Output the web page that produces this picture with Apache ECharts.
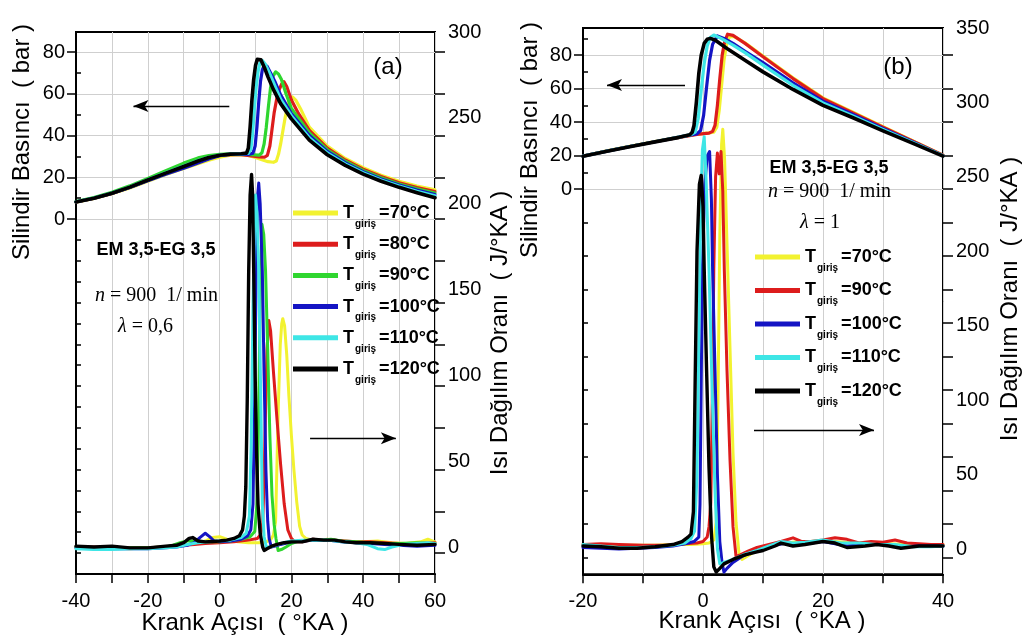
<!DOCTYPE html>
<html><head><meta charset="utf-8">
<script src="https://cdn.jsdelivr.net/npm/echarts@6/dist/echarts.min.js"></script>
<style>html,body{margin:0;padding:0;background:#fff}#c{width:1024px;height:644px}</style>
</head><body><div id="c"></div>
<script>
// ---------- tick labels ----------
const pressureLabels = [0, 20, 40, 60, 80];
const heatLabelsA = [0, 50, 100, 150, 200, 250, 300];
const heatLabelsB = [0, 50, 100, 150, 200, 250, 300, 350];
const tempsA = [70, 80, 90, 100, 110, 120];
const tempsB = [70, 90, 100, 110, 120];
const colorsA = ['#f2f230', '#dd1c1c', '#2fd62f', '#1414c4', '#3ee6e6', '#000000'];
const colorsB = ['#f2f230', '#dd1c1c', '#1414c4', '#3ee6e6', '#000000'];

// ---------- panel (a): cylinder pressure [crank angle, bar] ----------
const aP70 = [[-40,8.1],[-35,9.9],[-30,12.1],[-25,14.9],[-20,18.1],[-15,21.3],[-10,24.2],[-6,26.5],[-3,28.2],[0,29.6],[3,30.6],[6,30.9],[8,30.5],[10,29.5],[12,28.3],[13.5,27.5],[15,27.2],[15.8,27.8],[16.4,31],[17,36],[17.7,43],[18.3,49],[18.9,53.5],[19.6,57.5],[20.3,58.5],[21.2,57],[22.5,53],[25,44],[30,35],[35,29],[40,24.6],[45,21],[50,18.1],[55,15.8],[60,14]];
const aP80 = [[-40,8.2],[-35,10],[-30,12.3],[-25,15.2],[-20,18.6],[-15,22],[-10,25.2],[-6,27.8],[-3,29.4],[0,30.5],[3,31],[6,30.9],[9,30.2],[11,29.8],[12.5,29.6],[13.3,30.5],[14,35],[14.6,43],[15.2,51],[15.9,57.5],[16.6,62],[17.3,64.8],[17.9,65.8],[18.7,63.5],[20,57],[22,50.5],[25,42.5],[30,34],[35,28.3],[40,23.9],[45,20.4],[50,17.4],[55,15.1],[60,13.2]];
const aP90 = [[-40,8.4],[-35,10.3],[-30,12.8],[-25,15.9],[-20,19.5],[-15,23.2],[-10,26.8],[-6,29.3],[-3,30.4],[0,31],[3,31.2],[6,31.1],[9,30.8],[11,30.6],[11.8,31.8],[12.4,36],[13,44],[13.6,54],[14.2,63],[14.9,68.5],[15.6,70.5],[16.4,69.5],[17.2,67],[18.5,60],[20,53],[25,41.3],[30,33.2],[35,27.7],[40,23.3],[45,19.8],[50,16.8],[55,14.5],[60,12.5]];
const aP100 = [[-40,8.2],[-35,10],[-30,12.3],[-25,15.1],[-20,18.3],[-15,21.5],[-10,24.3],[-6,26.8],[-3,28.8],[0,30.4],[3,31],[6,31.1],[8,31],[9.3,31.6],[9.9,35],[10.4,44],[10.9,56],[11.4,66],[11.9,71.5],[12.5,74],[13.3,73],[14.5,69],[15.5,65.5],[17,59.5],[20,50.5],[25,40],[30,32.4],[35,27],[40,22.7],[45,19.2],[50,16.3],[55,13.9],[60,11.8]];
const aP110 = [[-40,8.3],[-35,10.1],[-30,12.5],[-25,15.4],[-20,18.8],[-15,22.2],[-10,25.4],[-6,28],[-3,29.6],[0,30.7],[3,31.1],[6,31.2],[8,31.4],[8.7,33.5],[9.2,41],[9.7,53],[10.2,63.5],[10.7,70.5],[11.2,74.5],[11.9,76],[12.8,74],[14,69.5],[15,65.5],[17,57.5],[20,49.5],[25,39],[30,31.7],[35,26.4],[40,22.2],[45,18.7],[50,15.8],[55,13.3],[60,11.2]];
const aP120 = [[-40,8.2],[-35,10],[-30,12.4],[-25,15.3],[-20,18.7],[-15,22],[-10,25.2],[-6,27.8],[-3,29.5],[0,30.6],[3,31.1],[6,31.3],[7.5,31.6],[8,34],[8.5,44],[9,57],[9.5,67],[10,73.5],[10.5,76.5],[10.9,77.2],[11.5,76.3],[12.5,72.5],[13.5,68],[15,62],[17,55.3],[20,48],[25,37.8],[30,30.8],[35,25.7],[40,21.5],[45,18.1],[50,15.2],[55,12.6],[60,10.2]];

// ---------- panel (a): heat release rate [crank angle, J/°KA] ----------
const aQ70 = [[-40,0],[-35,-0.5],[-30,-0.5],[-25,-1],[-20,-0.5],[-15,0],[-12,0.5],[-10,1],[-7,2],[-4,3.5],[-2,5.5],[0,6],[2,4.5],[5,3],[8,2.5],[11,2.5],[13,3],[14.3,4.5],[15,7],[15.6,15],[16,50],[16.4,85],[16.9,118],[17.3,130],[17.6,133],[18.1,129],[18.7,112],[19.3,88],[20,65],[20.7,45],[21.5,26],[22.3,12],[23,7],[24,5],[26,4],[28,4],[30,4.5],[33,3.5],[36,3],[40,3],[44,3.5],[48,2.5],[52,2],[56,3],[58,4.5],[60,3]];
const aQ80 = [[-40,0],[-35,0],[-30,-0.5],[-25,-0.5],[-20,-0.5],[-15,0],[-10,1],[-7,1.5],[-4,2],[0,2.5],[4,3],[8,4],[10.5,5],[11.5,7.5],[12,14],[12.4,40],[12.8,80],[13.2,115],[13.7,132],[14.2,126],[15,102],[16,74],[17,48],[18,25],[19,10],[20,5],[21,3],[23,3],[26,4.5],[29,4],[32,4],[35,3.5],[38,3],[42,3],[46,2.5],[50,2],[55,2],[60,2.5]];
const aQ90 = [[-40,0],[-35,-0.5],[-30,-0.5],[-25,-0.5],[-20,-0.5],[-15,0],[-13,1],[-11,2.5],[-9,3.5],[-7,3.5],[-5,3],[-2,3],[0,3],[3,3.5],[6,4.5],[8.5,6],[9.8,9],[10.4,25],[10.9,80],[11.3,145],[11.8,188],[12.3,182],[12.8,161],[13.4,115],[14,65],[14.6,30],[15.2,13],[15.7,5],[16.3,-2],[17.2,-1.5],[18.5,0],[20,2],[22,3.5],[25,4],[28,4],[31,4.5],[34,3.5],[38,3],[42,2.5],[46,2],[50,2],[55,2.5],[60,2]];
const aQ100 = [[-40,-0.5],[-35,-1],[-30,-1],[-25,-1],[-20,-1],[-15,-0.5],[-12,0],[-9,1],[-7,2.5],[-5.5,5.5],[-4,8],[-2.8,6],[-1.5,3.5],[0,3],[3,3.5],[6,4.5],[7.8,6.5],[8.7,10],[9.3,25],[9.8,90],[10.2,165],[10.6,205],[10.9,212],[11.3,200],[11.9,161],[12.4,100],[12.9,45],[13.4,15],[13.8,5],[14.4,0],[15.5,0.5],[17,1.5],[20,3],[23,3.5],[26,4],[30,4],[34,3],[38,2.5],[42,2],[46,1.5],[50,1],[55,0.5],[60,1]];
const aQ110 = [[-40,-1],[-35,-1.5],[-30,-1.5],[-25,-1],[-20,-1],[-15,-0.5],[-12,0],[-9,1.5],[-6,2.5],[-3,3],[0,3.5],[3,4],[6,5.5],[7.4,8],[8.3,18],[8.8,60],[9.3,140],[9.7,190],[10,205],[10.4,195],[10.9,161],[11.4,95],[11.9,25],[12.4,6],[13,0],[14,0],[15.5,1],[17,2],[20,3.5],[23,4],[26,4],[30,4],[34,3],[38,2.5],[41,1.5],[44,-1],[46,-1.5],[48,0],[51,1.5],[55,2],[58,2.5],[60,2]];
const aQ120 = [[-40,0.5],[-35,0],[-30,0.5],[-25,-0.5],[-20,-0.5],[-15,0.5],[-12,1],[-10,2.5],[-8.5,5],[-7.5,5.5],[-6,3.5],[-4,3],[-2,3.2],[0,3.5],[2,4],[4,5],[5.5,6.5],[6.4,10],[6.9,18],[7.3,35],[7.7,85],[8.1,160],[8.5,205],[8.9,217],[9.2,205],[9.5,161],[9.9,100],[10.3,55],[10.7,25],[11.3,8],[12,0],[12.4,-2],[13.2,-1],[14.5,0.5],[16,1.5],[18,2.5],[20,3],[23,3],[26,4.5],[29,4],[32,4],[35,3],[38,2.5],[42,2.5],[46,2],[50,1.5],[55,1],[60,1.5]];

// ---------- panel (b): cylinder pressure ----------
const bP70 = [[-20,19.8],[-16,22.8],[-12,25.7],[-8,28.4],[-4,31],[-1,32.8],[1,33.6],[1.8,34],[2.3,37],[2.7,47],[3.1,62],[3.5,77],[3.9,86],[4.4,91],[5.2,91],[7,87.3],[10,79.5],[15,66.5],[20,54.5],[25,46],[30,37.3],[35,28.8],[40,20.3]];
const bP90 = [[-20,19.7],[-16,22.7],[-12,25.6],[-8,28.3],[-4,30.9],[-1,32.7],[1,33.4],[1.6,34.5],[2,38],[2.4,50],[2.8,66],[3.2,80],[3.6,88],[4.1,92.5],[5,91.8],[7,87],[10,79],[15,66],[20,54],[25,45.5],[30,37],[35,28.6],[40,20.2]];
const bP100 = [[-20,19.7],[-16,22.7],[-12,25.6],[-8,28.3],[-4,31],[-2,32.4],[-1,33],[-0.4,35],[0.1,44],[0.6,61],[1.1,77],[1.6,86.5],[2.4,91.5],[3.5,90],[5,87],[7,82.3],[10,75.5],[15,63.5],[20,52.5],[25,44.5],[30,36.2],[35,28.2],[40,20]];
const bP110 = [[-20,19.7],[-16,22.7],[-12,25.6],[-8,28.3],[-4,31],[-2,32.5],[-1.3,34],[-0.8,42],[-0.3,59],[0.2,75],[0.7,85.5],[1.2,90.5],[1.8,92],[3,90],[5,86],[7,81.5],[10,74],[15,62],[20,51.5],[25,43.7],[30,35.6],[35,27.8],[40,19.9]];
const bP120 = [[-20,19.6],[-16,22.6],[-12,25.5],[-8,28.2],[-4,30.9],[-2.2,32.5],[-1.8,34],[-1.5,38],[-1.1,52],[-0.7,69],[-0.3,80],[0.2,87],[0.7,89.5],[1.2,90],[2,89],[4,84],[7,77],[10,70],[15,59.5],[20,50],[25,42.6],[30,34.8],[35,27.3],[40,19.7]];

// ---------- panel (b): heat release rate ----------
const bQ70 = [[-20,3],[-17,3],[-14,2.5],[-11,2.5],[-8,2.5],[-5,3],[-2,3],[0,3.5],[1,4],[1.8,6],[2.2,18],[2.5,100],[2.8,210],[3.1,272],[3.3,282],[3.6,262],[4,205],[4.5,135],[5,65],[5.5,18],[6,-3],[6.5,-7],[7.3,-5],[8.5,-2],[10,0],[12,2.5],[14,4],[16,5],[18,5],[20,5.5],[22,5],[25,4],[28,4],[31,3.5],[34,3],[37,3],[40,3]];
const bQ90 = [[-20,3],[-17,3.5],[-14,3],[-10,2.5],[-6,2.5],[-3,3.5],[-1,4],[0,5],[0.7,8],[1.0,15],[1.3,31],[1.55,100],[1.8,188],[2.1,250],[2.4,266],[2.7,252],[3.0,267],[3.3,240],[3.55,188],[4.0,120],[4.5,60],[5.0,15],[5.5,-5],[6.2,-4],[7.5,-1.5],[9,1],[11,3],[13,5],[15,7.5],[16.5,5],[18,5],[20,6],[22,7.5],[24,6.5],[26,4],[28,5],[30,4.5],[32,6],[34,4],[36,3.5],[38,3],[40,3]];
const bQ100 = [[-20,1],[-17,0.5],[-14,0],[-11,0.5],[-8,1],[-5,2],[-3,3.5],[-1.5,5],[-0.7,8],[-0.5,30],[-0.3,110],[-0.1,188],[0.3,245],[0.7,264],[1.1,267],[1.4,235],[1.6,188],[2.0,120],[2.4,50],[2.8,5],[3.2,-10],[3.5,-15.5],[4,-13],[5,-9],[6.5,-5],[8,-2.5],[10,0],[12,2.5],[14,4],[16,3],[18,4],[20,5],[22,3.5],[24,2],[27,3],[30,3],[33,1.5],[36,2],[40,2]];
const bQ110 = [[-20,3],[-17,2],[-14,1],[-11,1],[-8,1.5],[-5,2.5],[-3,4],[-2,7],[-1.4,12],[-1.0,50],[-0.7,140],[-0.4,225],[-0.1,268],[0.2,277],[0.5,250],[1.0,188],[1.5,110],[2.0,40],[2.4,0],[2.8,-10],[3.5,-9],[5,-7],[7,-3.5],[9,-1],[11,2],[13,5],[15,4],[17,4.5],[20,6],[23,4],[26,4],[29,3],[32,3],[35,1.5],[38,1.5],[40,2]];
const bQ120 = [[-20,2],[-17,1.5],[-14,0.5],[-11,0.5],[-8,1.5],[-5,3],[-3.5,5],[-2.5,8],[-2,10],[-1.6,25],[-1.3,115],[-1.0,200],[-0.6,245],[-0.3,251],[0,230],[0.2,188],[0.6,120],[1.0,55],[1.4,10],[1.8,-12],[2.2,-15.5],[2.8,-13],[3.5,-10],[5,-7],[7,-4],[9,-2],[10,-1],[12,2],[13,4],[15,2],[17,3],[20,5],[22,4],[24,1],[27,2],[29,3],[31,2],[33,0.5],[36,2],[40,2]];

// ---------- annotation arrows (data coordinates) ----------
const arrowPA = [[-24, 54.2], [2.7, 54.2]];
const arrowQA = [[25.2, 63.3], [49.1, 63.3]];
const arrowPB = [[-16, 62.1], [-3, 62.1]];
const arrowQB = [[8.5, 79.9], [28.5, 79.9]];

// ================= chart =================
const FONT = '"Liberation Sans", Arial, sans-serif';
const SERIF = '"Liberation Serif", "Times New Roman", serif';
const GRIDC = '#cfcfcf';
const chart = echarts.init(document.getElementById('c'), null, {renderer: 'canvas'});

function xAxisDef(gi, min, max) {
  return {
    type: 'value', gridIndex: gi, min: min, max: max, interval: 20, position: 'bottom',
    axisLine: {show: true, onZero: false, lineStyle: {color: '#000', width: 2}},
    axisTick: {show: true, inside: false, length: 9, lineStyle: {color: '#000', width: 1.5}},
    minorTick: {show: true, splitNumber: 2, length: 9, lineStyle: {color: '#000', width: 1.5}},
    splitLine: {show: true, lineStyle: {color: GRIDC, width: 1}},
    minorSplitLine: {show: true, lineStyle: {color: GRIDC, width: 1}},
    axisLabel: {fontSize: 20, fontFamily: FONT, color: '#000', margin: 17}
  };
}
function range(a, b, step) { const r = []; for (let v = a; v <= b + 1e-9; v += step) r.push(v); return r; }

function yAxesDef(gi, pMin, pMax, innerTicks, mirrorTicks, qMin, qMax, qLabels) {
  return [
    { // pressure axis (data)
      type: 'value', gridIndex: gi, min: pMin, max: pMax, interval: 10, position: 'left',
      axisLine: {show: true, onZero: false, lineStyle: {color: '#000', width: 2}},
      axisTick: {show: true, inside: false, length: 9, customValues: pressureLabels, lineStyle: {color: '#000', width: 1.5}},
      axisLabel: {show: true, customValues: pressureLabels, fontSize: 20, fontFamily: FONT, color: '#000', margin: 11},
      splitLine: {show: true, lineStyle: {color: GRIDC, width: 1}}
    },
    { // small inner ticks on left side
      type: 'value', gridIndex: gi, min: pMin, max: pMax, position: 'left',
      axisLine: {show: false, onZero: false},
      axisTick: {show: true, inside: true, length: 5, customValues: innerTicks, lineStyle: {color: '#000', width: 1.5}},
      axisLabel: {show: false}, splitLine: {show: false}
    },
    { // mirrored ticks on right frame
      type: 'value', gridIndex: gi, min: pMin, max: pMax, position: 'right',
      axisLine: {show: false, onZero: false},
      axisTick: {show: true, inside: false, length: 10, customValues: mirrorTicks, lineStyle: {color: '#000', width: 1.5}},
      axisLabel: {show: false}, splitLine: {show: false}
    },
    { // heat release axis (data)
      type: 'value', gridIndex: gi, min: qMin, max: qMax, position: 'right',
      axisLine: {show: false, onZero: false}, axisTick: {show: false},
      axisLabel: {show: true, customValues: qLabels, fontSize: 20, fontFamily: FONT, color: '#000', margin: 13},
      splitLine: {show: false}
    }
  ];
}

function line(name, data, color, xi, yi, w) {
  return {
    type: 'line', name: name, data: data, xAxisIndex: xi, yAxisIndex: yi,
    showSymbol: false, symbol: 'none', smooth: false, animation: false,
    lineStyle: {color: color, width: w, join: 'round', cap: 'round'},
    itemStyle: {color: color}, emphasis: {disabled: true}, z: 3
  };
}
function arrowMark(pts, atStart) {
  return {
    silent: true, animation: false,
    symbol: atStart ? ['arrow', 'none'] : ['none', 'arrow'], symbolSize: [9, 15],
    label: {show: false}, emphasis: {disabled: true},
    lineStyle: {color: '#000', width: 1.3, type: 'solid'},
    data: [[{coord: pts[0]}, {coord: pts[1]}]]
  };
}

const pA = [aP70, aP80, aP90, aP100, aP110, aP120];
const qA = [aQ70, aQ80, aQ90, aQ100, aQ110, aQ120];
const pB = [bP70, bP90, bP100, bP110, bP120];
const qB = [bQ70, bQ90, bQ100, bQ110, bQ120];

const series = [];
tempsA.forEach((t, i) => {
  const s = line('a' + t, pA[i], colorsA[i], 0, 0, t === 120 ? 3.6 : 3.2);
  if (t === 120) s.markLine = arrowMark(arrowPA, true);
  series.push(s);
});
tempsA.forEach((t, i) => {
  const s = line('a' + t, qA[i], colorsA[i], 0, 3, t === 120 ? 3.4 : 3);
  if (t === 120) s.markLine = arrowMark(arrowQA, false);
  series.push(s);
});
tempsB.forEach((t, i) => {
  const s = line('b' + t, pB[i], colorsB[i], 1, 4, t === 120 ? 3.6 : 3.2);
  if (t === 120) s.markLine = arrowMark(arrowPB, true);
  series.push(s);
});
tempsB.forEach((t, i) => {
  const s = line('b' + t, qB[i], colorsB[i], 1, 7, t === 120 ? 3.4 : 3);
  if (t === 120) s.markLine = arrowMark(arrowQB, false);
  series.push(s);
});

const legendRich = {
  t: {fontSize: 18, fontWeight: 'bold', fontFamily: FONT, color: '#000', lineHeight: 28},
  s: {fontSize: 10, fontWeight: 'bold', fontFamily: FONT, color: '#000', height: 10, lineHeight: 10, verticalAlign: 'top', padding: [20, 3, 0, 1]}
};
function legendDef(names, left, top, gap) {
  return {
    data: names, orient: 'vertical', left: left, top: top, padding: 0,
    itemWidth: 45, itemHeight: 5, itemGap: gap, icon: 'rect', selectedMode: false,
    formatter: function (n) { return '{t|T}{s|giriş}{t|=' + n.slice(1) + '°C}'; },
    textStyle: {color: '#000', fontFamily: FONT, rich: legendRich}
  };
}

function txt(x, y, text, font, extra) {
  return Object.assign({type: 'text', x: x, y: y, z: 50,
    style: {text: text, font: font, fill: '#000', align: 'center', verticalAlign: 'middle'}}, extra || {});
}
const TITLE = '24px ' + FONT;
const rot = {rotation: Math.PI / 2};
const mathRich = {i: {font: 'italic 20px ' + SERIF, fill: '#000'}};
function mathTxt(x, y, text) {
  return {type: 'text', x: x, y: y, z: 50,
    style: {text: text, font: '20px ' + SERIF, fill: '#000', align: 'left', verticalAlign: 'middle', rich: mathRich}};
}

const option = {
  backgroundColor: '#fff',
  animation: false,
  grid: [
    {left: 76, top: 32, width: 359, height: 542, show: true, borderColor: '#000', borderWidth: 2, backgroundColor: 'transparent', outerBoundsMode: 'none'},
    {left: 583, top: 28, width: 360, height: 546.3, show: true, borderColor: '#000', borderWidth: 2, backgroundColor: 'transparent', outerBoundsMode: 'none'}
  ],
  xAxis: [xAxisDef(0, -40, 60), xAxisDef(1, -20, 40)],
  yAxis: [].concat(
    yAxesDef(0, -170, 89.6, range(-160, -10, 10).concat([10, 30, 50, 70]), range(-160, 80, 20), -15.73, 300, heatLabelsA),
    yAxesDef(1, -230, 96.2, range(-220, -20, 20).concat([10, 30, 50, 70, 90]), range(-220, 80, 20), -17.0, 350, heatLabelsB)
  ),
  legend: [
    legendDef(tempsA.map(t => 'a' + t), 293, 199, 1.2),
    legendDef(tempsB.map(t => 'b' + t), 755, 243, 3.5)
  ],
  series: series,
  graphic: [
    // panel (a)
    txt(22, 142, 'Silindir Basıncı  ( bar )', TITLE, rot),
    txt(500, 333, 'Isı Dağılım Oranı  ( J/°KA )', TITLE, rot),
    txt(245, 623, 'Krank Açısı  ( °KA )', TITLE),
    txt(388, 67, '(a)', '24px ' + FONT),
    txt(156, 250, 'EM 3,5-EG 3,5', 'bold 18px ' + FONT),
    mathTxt(95, 296, '{i|n} = 900  1/ min'),
    mathTxt(118, 327, '{i|λ} = 0,6'),
    // panel (b)
    txt(530, 140, 'Silindir Basıncı  ( bar )', TITLE, rot),
    txt(1010, 299, 'Isı Dağılım Oranı  ( J/°KA )', TITLE, rot),
    txt(762, 621, 'Krank Açısı  ( °KA )', TITLE),
    txt(898, 67, '(b)', '24px ' + FONT),
    txt(829, 168, 'EM 3,5-EG 3,5', 'bold 18px ' + FONT),
    mathTxt(768, 192, '{i|n} = 900  1/ min'),
    mathTxt(800, 223, '{i|λ} = 1')
  ]
};
chart.setOption(option);
</script></body></html>
